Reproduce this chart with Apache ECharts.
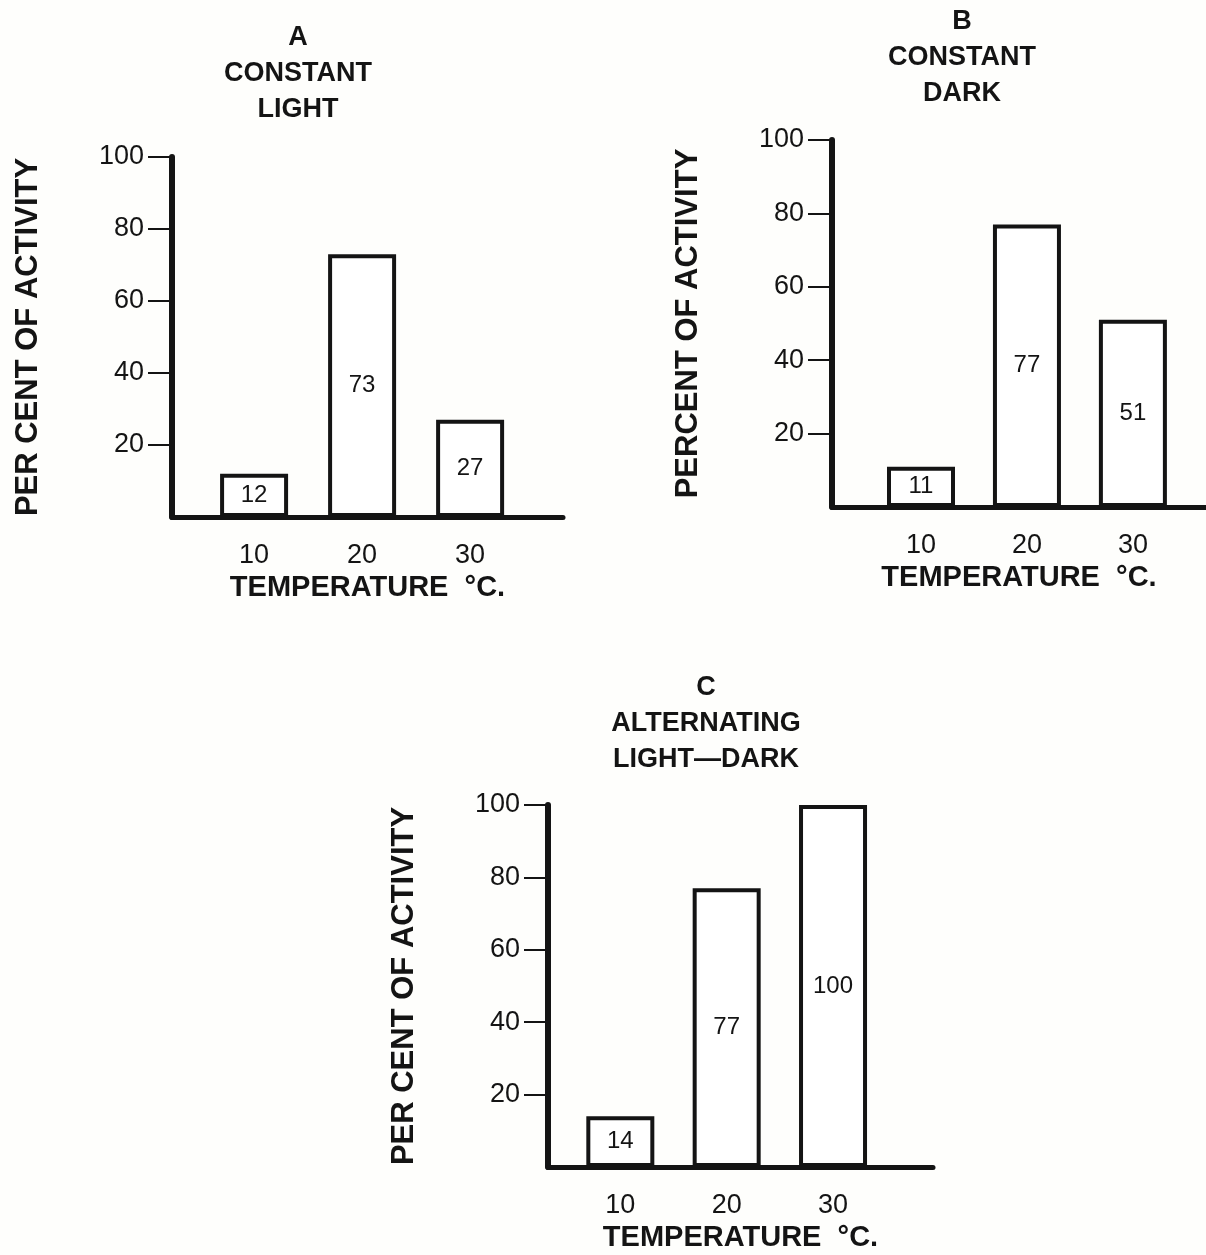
<!DOCTYPE html>
<html>
<head>
<meta charset="utf-8">
<script src="https://cdn.jsdelivr.net/npm/echarts@6/dist/echarts.min.js"></script>
<style>
	html, body { margin: 0; padding: 0; background: #fff; }
	#main { width: 1206px; height: 1255px; }
</style>
</head>
<body>
<div id="main"></div>
<script>
// data
const temperatures = [10, 20, 30];
const lightValues = [12, 73, 27];
const darkValues = [11, 77, 51];
const alternatingValues = [14, 77, 100];
const yTicks = [20, 40, 60, 80, 100];
const panelTitles = ['A\nCONSTANT\nLIGHT', 'B\nCONSTANT\nDARK', 'C\nALTERNATING\nLIGHT\u2014DARK'];
const yNames = ['PER CENT OF ACTIVITY', 'PERCENT OF ACTIVITY', 'PER CENT OF ACTIVITY'];
const xName = 'TEMPERATURE  \u00B0C.';

const FONT = 'Liberation Sans';
const INK = '#141414';

// where each panel sits on the page
const panels = [
	{ values: lightValues, grid: { left: 172, top: 157, width: 391, height: 360 }, xMin: 2.4, xMax: 38.6, title: { left: 298, top: 20 } },
	{ values: darkValues, grid: { left: 832, top: 140, width: 374, height: 367 }, xMin: 1.6, xMax: 36.9, title: { left: 962, top: 4 } },
	{ values: alternatingValues, grid: { left: 548, top: 805, width: 385, height: 362 }, xMin: 3.2, xMax: 39.4, title: { left: 706, top: 670 } }
];

const chart = echarts.init(document.getElementById('main'), null, { renderer: 'canvas' });

const option = {
	backgroundColor: '#fefefc',
	animation: false,
	title: panels.map((p, i) => ({
		text: panelTitles[i],
		left: p.title.left,
		top: p.title.top,
		padding: 0,
		textAlign: 'center',
		textStyle: { fontFamily: FONT, fontWeight: 'bold', fontSize: 27, lineHeight: 36, color: INK }
	})),
	// keep the grids where they are put, even near the page edge
	grid: panels.map(p => Object.assign({ containLabel: false, outerBoundsMode: 'none' }, p.grid)),
	xAxis: panels.map((p, i) => ({
		type: 'value',
		gridIndex: i,
		min: p.xMin,
		max: p.xMax,
		name: xName,
		nameLocation: 'middle',
		nameGap: 56,
		nameTextStyle: { fontFamily: FONT, fontWeight: 'bold', fontSize: 29, color: INK },
		axisLine: { show: true, onZero: false, lineStyle: { color: INK, width: 5, cap: 'round' } },
		axisTick: { show: false },
		splitLine: { show: false },
		axisLabel: {
			customValues: temperatures,
			margin: 25,
			fontFamily: FONT,
			fontSize: 27,
			color: INK
		}
	})),
	yAxis: panels.map((p, i) => ({
		type: 'value',
		gridIndex: i,
		min: 0,
		max: 100,
		interval: 20,
		name: yNames[i],
		nameLocation: 'middle',
		nameGap: 128,
		nameRotate: 90,
		nameTextStyle: { fontFamily: FONT, fontWeight: 'bold', fontSize: 31, color: INK },
		axisLine: { show: true, lineStyle: { color: INK, width: 6, cap: 'round' } },
		axisTick: { show: true, customValues: yTicks, length: 24, lineStyle: { color: INK, width: 2 } },
		splitLine: { show: false },
		axisLabel: {
			customValues: yTicks,
			margin: 28,
			fontFamily: FONT,
			fontSize: 27,
			color: INK
		}
	})),
	series: panels.map((p, i) => ({
		type: 'bar',
		xAxisIndex: i,
		yAxisIndex: i,
		barWidth: 68,
		data: temperatures.map((t, k) => [t, p.values[k]]),
		itemStyle: { color: '#ffffff', borderColor: INK, borderWidth: 4 },
		label: {
			show: true,
			position: 'inside',
			formatter: d => d.value[1],
			fontFamily: FONT,
			fontSize: 24,
			color: INK
		}
	}))
};

chart.setOption(option);
</script>
</body>
</html>
